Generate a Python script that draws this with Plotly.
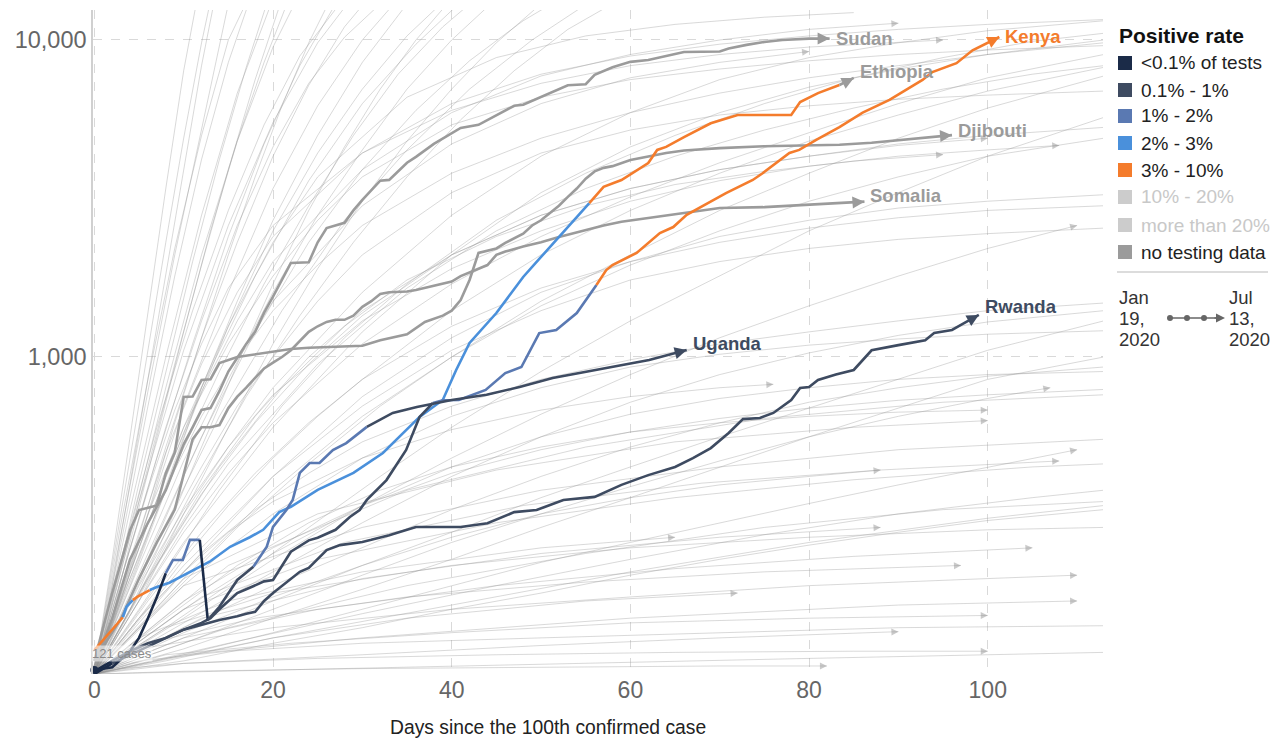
import numpy as np
import plotly.graph_objects as go

# ---------------- layout constants ----------------
W, H = 1281, 741
ML, MR, MT, MB = 93, 178, 10, 67
PW = W - ML - MR
PH = H - MT - MB
XR = [-0.15, 112.9]
YR = [2.0, 4.0946]
PX_PER_DAY = PW / (XR[1] - XR[0])
PX_PER_DEC = PH / (YR[1] - YR[0])
FONT = "Arial, 'Liberation Sans', sans-serif"


def pxx(x):
    return (x - ML) / PW


def pxy(y):
    return (H - MB - y) / PH


# ---------------- data ----------------
RATE_COLORS = {'a': '#1b2b48', 'b': '#3e4b61', 'c': '#5a79b2', 'd': '#4a90db',
               'e': '#f47c2c', 'f': '#cccccc', 'g': '#cccccc', 'n': '#9b9b9b'}
LEGEND_CODES = ['a', 'b', 'c', 'd', 'e', 'f', 'g', 'n']
LEGEND_LABELS = ['<0.1% of tests', '0.1% - 1%', '1% - 2%', '2% - 3%', '3% - 10%',
                 '10% - 20%', 'more than 20%', 'no testing data']
X_TICKS = [0, 20, 40, 60, 80, 100]
Y_TICKS = [1000, 10000]
Y_TICK_TEXT = ['1,000', '10,000']

SUDAN_DAYS = [0, 2, 4, 6, 8, 9, 10, 11, 12, 13, 14, 15, 16, 17, 18, 19, 20, 21, 22, 24,
              25, 26, 27, 28, 29, 30, 32, 33, 35, 36, 38, 40, 41, 43, 45, 47, 48, 50, 51, 53,
              55, 56, 58, 60, 62, 64, 66, 70, 71, 73, 75, 77, 80, 82.3]
SUDAN_VALS = [105, 150, 230, 300, 380, 450, 530, 600, 681, 690, 780, 900, 1000, 1100, 1200, 1380, 1550, 1750, 1980, 1990,
              2300, 2550, 2600, 2650, 2900, 3130, 3600, 3620, 4100, 4280, 4700, 5100, 5280, 5400, 5800, 6200, 6250, 6600, 6800, 7200,
              7250, 7760, 8200, 8530, 8650, 8900, 9160, 9200, 9400, 9650, 9860, 10000, 10100, 10100]

DJIBOUTI_DAYS = [0, 2, 4, 5, 7, 8, 9, 10, 11, 12, 13, 14, 16, 18, 20, 22, 24, 27, 30, 32,
                 35, 37, 39, 40, 41, 42, 43, 45, 46, 48, 49, 50, 51, 52, 53, 54, 55, 56, 57, 58,
                 60, 62, 64, 66, 70, 75, 80, 83.4, 87, 91, 94, 96]
DJIBOUTI_VALS = [110, 180, 284, 329, 340, 430, 500, 748, 750, 846, 850, 957, 1000, 1020, 1040, 1060, 1070, 1080, 1085, 1130,
                 1180, 1290, 1350, 1400, 1513, 1750, 2130, 2200, 2290, 2450, 2600, 2700, 2850, 3000, 3200, 3400, 3650, 3850, 3950, 4000,
                 4180, 4300, 4400, 4480, 4560, 4620, 4650, 4670, 4740, 4850, 4960, 5010]

SOMALIA_DAYS = [0, 3, 5, 7, 9, 10, 11, 12, 13, 14, 15, 16, 17, 18, 19, 20, 21, 22, 23, 24,
                25, 26, 27, 28, 29, 30, 31, 32, 33, 35, 36, 38, 40, 41, 42, 44, 45, 46, 48, 50,
                52, 55, 57, 59, 62, 66, 70, 75, 78, 81.2, 84, 86.2]
SOMALIA_VALS = [110, 150, 200, 260, 330, 430, 550, 600, 600, 610, 690, 750, 800, 860, 920, 960, 1000, 1050, 1120, 1200,
                1250, 1290, 1310, 1310, 1350, 1440, 1500, 1580, 1600, 1610, 1626, 1680, 1730, 1800, 1850, 1950, 2100, 2150, 2230, 2300,
                2390, 2520, 2600, 2670, 2740, 2840, 2950, 2970, 3000, 3040, 3060, 3090]

ETHIOPIA_DAYS = [0, 1.7, 3.2, 3.6, 4.3, 4.8, 6.2, 7, 8.4, 10.7, 12.9, 15.2, 17.4, 18.9, 20.7, 22, 25, 29, 32.3, 36.4,
                 37.5, 39, 40.5, 42, 45, 48, 50, 53, 55.4, 57, 59, 62, 63, 64, 66, 69, 72, 78, 79, 81,
                 83.4, 85]
ETHIOPIA_VALS = [119, 135, 151, 163, 171, 175, 184, 188, 194, 210, 226, 252, 270, 285, 324, 337, 381, 431, 498, 647,
                 681, 732, 910, 1107, 1376, 1788, 2068, 2571, 3060, 3440, 3617, 4090, 4500, 4600, 4940, 5460, 5800, 5800, 6370, 6800,
                 7210, 7590]
ETHIOPIA_RATE = [(3.2, 'e'), (4.3, 'd'), (6.2, 'e'), (55.4, 'd'), (83.4, 'e'), (85, 'n')]

KENYA_DAYS = [0, 2, 4, 6, 8, 10, 12, 13, 14, 15, 16, 17, 18, 19, 20, 21, 22, 24, 25, 27,
              28.6, 29.7, 30.5, 32.7, 34.9, 36.4, 37.9, 39, 40.8, 43.8, 46, 47.8, 49.8, 51.7, 54, 56.2, 57.3, 58, 60.7, 63.3,
              64.8, 66.3, 67.8, 70.7, 73.7, 74.8, 77.8, 78.9, 80.8, 83.4, 86, 89, 92.7, 93.8, 96.5, 98.3, 101.3]
KENYA_VALS = [100, 108, 115, 122, 130, 138, 145, 150, 160, 170, 180, 185, 190, 196, 198, 220, 243, 264, 269, 285,
              313, 329, 354, 409, 509, 647, 716, 730, 732, 787, 890, 930, 1190, 1217, 1376, 1687, 1880, 1950, 2130, 2460,
              2570, 2810, 2970, 3290, 3617, 3800, 4400, 4500, 4840, 5310, 5900, 6470, 7480, 7920, 8450, 9280, 10220]
KENYA_RATE = [(2, 'a'), (37.9, 'b'), (56.2, 'c'), (101.3, 'e')]

UGANDA_DAYS = [0, 2, 4, 5, 6, 7, 8, 8.8, 9.9, 10.7, 11.8, 12.7, 14, 16, 17.8, 19.3, 20, 21.5, 22.2, 23,
               24.1, 25.2, 26.7, 28.2, 30.5, 33.4, 36.1, 40, 43.9, 47.6, 51.3, 55, 58.8, 62.1, 66.3]
UGANDA_VALS = [103, 105, 118, 130, 150, 175, 208, 229, 229, 265, 265, 148, 163, 198, 218, 252, 291, 329, 354, 431,
               463, 463, 509, 535, 602, 666, 695, 732, 760, 804, 858, 897, 944, 978, 1052]
UGANDA_RATE = [(8, 'a'), (11.8, 'c'), (12.7, 'a'), (17.8, 'b'), (30.5, 'c'), (66.3, 'b')]

RWANDA_DAYS = [0, 2, 4, 6, 8, 10, 12, 14, 16, 17, 18, 19, 20, 22, 23, 24, 26, 27.5, 30, 31,
               33, 35, 36, 41, 44, 47, 49.5, 52.5, 56, 59, 62, 65, 67, 69, 71, 72.6, 74.5, 76, 78, 79,
               80, 81, 83, 85, 86, 87, 90, 93, 94, 96, 97, 99]
RWANDA_VALS = [102, 110, 118, 125, 130, 138, 143, 148, 152, 155, 157, 170, 180, 200, 210, 216, 246, 255, 261, 265,
               274, 285, 291, 291, 299, 324, 329, 354, 362, 395, 424, 450, 480, 516, 576, 637, 642, 666, 732, 799,
               804, 846, 880, 910, 980, 1050, 1090, 1130, 1190, 1217, 1262, 1357]
RWANDA_RATE = [(2, 'a'), (99, 'b')]

START_LABEL = '121 cases'

BG_FAST = [
    ([0, 2, 4, 6, 8, 10, 12, 14], [100, 220, 480, 1050, 2300, 4900, 9800, 18000]),
    ([0, 3, 6, 9, 12, 15], [100, 280, 780, 2100, 5200, 13000]),
    ([0, 3, 6, 9, 12, 15, 18], [100, 260, 700, 1800, 4200, 8500, 15000]),
    ([0, 4, 8, 12, 16, 20], [100, 330, 1000, 2800, 6800, 13500]),
    ([0, 4, 8, 12, 16, 20, 24], [100, 280, 800, 2100, 4800, 9500, 16000]),
    ([0, 3, 7, 11, 15, 19, 23, 27], [100, 200, 480, 1100, 2400, 4700, 8300, 13000]),
    ([0, 5, 10, 15, 20, 25, 30], [100, 350, 1050, 2600, 5500, 9800, 15000]),
    ([0, 5, 10, 15, 20, 25, 30, 35], [100, 260, 700, 1600, 3400, 6200, 10000, 14500]),
    ([0, 4, 8, 12, 16, 20, 25, 30, 35], [100, 190, 380, 800, 1500, 2700, 5000, 8500, 13000]),
    ([0, 6, 12, 18, 24, 30, 36, 42], [100, 300, 800, 1800, 3600, 6300, 9700, 14000]),
    ([0, 5, 10, 15, 20, 25, 30, 35, 40, 45], [100, 200, 420, 850, 1600, 2800, 4500, 7000, 10000, 13500]),
    ([0, 2, 4, 7, 10, 13, 16, 19, 22], [100, 150, 260, 560, 1200, 2500, 4800, 8500, 14000]),
    ([0, 3, 6, 9, 12, 15, 18, 21, 24, 27], [100, 170, 320, 620, 1150, 2100, 3700, 6200, 9800, 14500]),
    ([0, 4, 8, 12, 16, 20, 24, 28, 32, 36, 40], [100, 160, 280, 520, 950, 1700, 2900, 4600, 7000, 10000, 13500]),
    ([0, 5, 10, 15, 20, 25, 30, 35, 40, 45, 50], [100, 170, 320, 600, 1100, 1900, 3100, 4800, 7000, 9800, 13000]),
    ([0, 3, 6, 9, 12, 15, 18], [100, 300, 850, 2200, 5000, 10000, 15000]),
    ([0, 4, 8, 12, 16, 20, 24, 28, 32], [100, 220, 520, 1150, 2300, 4300, 7200, 11000, 15000]),
    ([0, 5, 10, 15, 20, 25, 30, 35, 40], [100, 230, 560, 1250, 2500, 4400, 7000, 10300, 14000]),
    ([0, 6, 12, 18, 24, 30, 36, 42, 48, 54], [100, 240, 560, 1200, 2300, 3900, 6000, 8600, 11500, 14500]),
    ([0, 2, 5, 8, 11, 14, 17, 20], [100, 170, 400, 900, 2000, 4200, 8200, 15000]),
    ([0, 7, 14, 21, 28, 35, 42, 49, 56], [100, 260, 650, 1400, 2700, 4500, 7000, 10000, 13500]),
    ([0, 4, 9, 14, 19, 24, 29, 34, 39, 44], [100, 200, 450, 900, 1700, 3000, 5000, 7800, 11000, 14500]),
    ([0, 3, 7, 11, 15, 19, 23, 27, 31], [100, 230, 600, 1400, 2900, 5400, 8900, 12500, 16000]),
    ([0, 5, 11, 17, 23, 29, 35, 41, 47, 53, 59], [100, 180, 380, 750, 1350, 2300, 3700, 5600, 8000, 10800, 13500]),
    ([0, 2, 4, 6, 8, 10, 12], [100, 230, 560, 1400, 3400, 8000, 16000]),
    ([0, 2, 4, 6, 8, 10, 12, 14], [100, 190, 400, 850, 1800, 3900, 8300, 16000]),
    ([0, 3, 6, 9, 12, 15, 18, 21], [100, 210, 450, 950, 1950, 3900, 7500, 13500]),
    ([0, 4, 8, 12, 16, 20, 24, 28, 32, 36], [100, 250, 600, 1300, 2600, 4600, 7300, 10200, 13000, 15500]),
]

BG_MID = [
    ([0, 5, 10, 15, 20, 30, 40, 50, 60, 70, 80, 90, 100, 113], [100, 180, 320, 520, 800, 1600, 2800, 4300, 5900, 7500, 8800, 9800, 10700, 11500]),
    ([0, 5, 10, 20, 30, 40, 50, 60, 70, 80, 90, 100, 113], [100, 160, 260, 600, 1200, 2100, 3300, 4600, 5900, 7100, 8100, 9000, 10000]),
    ([0, 7, 14, 21, 28, 35, 45, 55, 65, 75, 85, 95, 105, 113], [100, 190, 380, 700, 1150, 1700, 2700, 3800, 5000, 6300, 7600, 8800, 9900, 10500]),
    ([0, 5, 10, 15, 20, 25, 30, 40, 50, 60, 70, 80, 90, 100, 113], [100, 150, 230, 340, 480, 650, 850, 1400, 2100, 2900, 3800, 4800, 5800, 6900, 8200]),
    ([0, 6, 12, 18, 24, 30, 40, 50, 60, 70, 80, 90, 100, 113], [100, 200, 380, 650, 1000, 1400, 2100, 2800, 3400, 3900, 4300, 4700, 5000, 5300]),
    ([0, 5, 10, 20, 30, 40, 50, 60, 70, 80, 90, 100, 113], [100, 140, 200, 380, 650, 1000, 1500, 2100, 2900, 3800, 4900, 6100, 7700]),
    ([0, 4, 8, 12, 16, 20, 30, 40, 50, 60, 70, 80, 90], [100, 210, 420, 780, 1300, 2000, 3900, 5900, 7700, 9000, 10000, 10800, 11300]),
    ([0, 5, 10, 15, 20, 30, 40, 50, 60, 70, 80, 90, 100, 108], [100, 190, 330, 520, 760, 1300, 1900, 2500, 3100, 3600, 4000, 4300, 4500, 4650]),
    ([0, 8, 16, 24, 32, 40, 50, 60, 70, 80, 90, 100, 113], [100, 170, 290, 460, 700, 1000, 1450, 1950, 2500, 3100, 3700, 4300, 4900]),
    ([0, 3, 6, 10, 15, 20, 25, 30, 40, 50, 60, 70, 80, 90, 100, 113], [100, 180, 320, 600, 1100, 1800, 2700, 3700, 5400, 6600, 7500, 8100, 8600, 9000, 9300, 9600]),
    ([0, 5, 10, 15, 20, 30, 40, 50, 60, 70, 80], [100, 220, 470, 900, 1500, 3000, 4700, 6300, 7600, 8500, 9200]),
    ([0, 10, 20, 30, 40, 50, 60, 70, 80, 90, 100, 113], [100, 210, 420, 750, 1150, 1600, 2000, 2400, 2700, 2950, 3100, 3250]),
    ([0, 6, 12, 18, 24, 30, 40, 50, 60, 70, 80, 90, 100, 113], [100, 170, 280, 430, 620, 850, 1250, 1650, 2000, 2300, 2550, 2750, 2900, 3000]),
    ([0, 5, 10, 20, 30, 40, 50, 60, 70, 80, 90, 100, 113], [100, 150, 220, 420, 700, 1050, 1400, 1750, 2000, 2200, 2350, 2450, 2550]),
    ([0, 8, 16, 24, 32, 40, 50, 60, 70, 80, 90, 100, 113], [100, 140, 200, 290, 420, 600, 900, 1300, 1800, 2500, 3300, 4300, 5700]),
    ([0, 5, 10, 15, 20, 25, 35, 45, 55, 65, 75, 85], [100, 250, 600, 1250, 2300, 3700, 6600, 8800, 10300, 11200, 11800, 12200]),
    ([0, 10, 20, 30, 40, 50, 60, 70, 80, 90, 100, 110], [100, 150, 230, 340, 480, 660, 880, 1150, 1450, 1800, 2200, 2600]),
    ([0, 6, 12, 18, 24, 30, 40, 50, 60, 70, 80, 90, 100], [100, 200, 370, 620, 950, 1350, 2100, 2800, 3400, 3900, 4300, 4650, 4900]),
    ([0, 5, 10, 15, 25, 35, 45, 55, 65, 75, 85, 95, 105, 113], [100, 170, 290, 460, 950, 1650, 2500, 3400, 4300, 5200, 6100, 7000, 7800, 8300]),
    ([0, 4, 8, 12, 16, 20, 25, 30, 40, 50, 60, 70, 80, 90, 100, 113], [100, 170, 280, 450, 700, 1000, 1500, 2100, 3300, 4400, 5200, 5800, 6200, 6500, 6700, 6900]),
    ([0, 7, 14, 21, 28, 35, 45, 55, 65, 75, 85, 95], [100, 220, 450, 800, 1250, 1750, 2400, 3000, 3500, 3850, 4150, 4350]),
    ([0, 3, 6, 9, 12, 15, 20, 25, 30, 40, 50, 60, 70, 80, 90, 100, 113], [100, 170, 280, 440, 650, 900, 1400, 1950, 2600, 3800, 4900, 5900, 6800, 7600, 8300, 9000, 9800]),
    ([0, 4, 8, 12, 16, 20, 30, 40, 50, 60, 70, 80, 90, 100, 113], [100, 230, 500, 950, 1600, 2400, 4400, 6300, 7800, 8900, 9700, 10300, 10800, 11200, 11600]),
    ([0, 3, 6, 9, 12, 15, 20, 30, 40, 50, 60, 70, 80, 95], [100, 200, 380, 680, 1100, 1650, 2600, 4400, 6000, 7300, 8300, 9000, 9500, 10000]),
    ([0, 5, 10, 15, 20, 30, 40, 50, 60, 70, 80, 90, 100, 113], [100, 170, 280, 430, 620, 1100, 1700, 2400, 3200, 4100, 5100, 6300, 7600, 9000]),
]

BG_SLOW = [
    ([0, 10, 20, 30, 40, 50, 60, 70, 80, 90, 100, 113], [100, 140, 190, 250, 330, 420, 520, 620, 720, 800, 870, 930]),
    ([0, 10, 20, 30, 40, 50, 60, 70, 80, 90, 100, 113], [100, 120, 150, 185, 230, 290, 360, 450, 560, 690, 850, 1000]),
    ([0, 8, 16, 24, 32, 40, 50, 60, 70, 80, 90, 100], [100, 150, 220, 300, 380, 450, 520, 580, 620, 650, 670, 680]),
    ([0, 10, 20, 30, 40, 50, 60, 70, 80, 90, 100, 113], [100, 130, 170, 220, 280, 360, 450, 560, 690, 850, 1050, 1300]),
    ([0, 5, 10, 20, 30, 40, 50, 60, 70, 80, 90, 100, 113], [100, 130, 170, 250, 340, 430, 510, 580, 640, 690, 730, 760, 790]),
    ([0, 10, 20, 30, 40, 50, 60, 70, 80, 88], [100, 135, 175, 220, 270, 320, 360, 395, 420, 440]),
    ([0, 15, 30, 45, 60, 75, 90, 105, 113], [100, 125, 155, 190, 230, 275, 320, 360, 380]),
    ([0, 10, 20, 30, 40, 50, 60, 70, 80, 90, 100, 110], [100, 115, 135, 160, 190, 225, 260, 300, 345, 395, 450, 510]),
    ([0, 5, 10, 15, 20, 30, 40, 50, 60, 70, 76], [100, 150, 210, 280, 350, 480, 590, 680, 750, 800, 820]),
    ([0, 10, 20, 30, 40, 50, 60, 70, 80, 90, 100, 113], [100, 160, 240, 340, 450, 560, 660, 740, 800, 850, 880, 900]),
    ([0, 10, 20, 30, 40, 50, 60, 70, 80, 90, 100, 113], [100, 110, 125, 140, 160, 180, 205, 230, 255, 280, 305, 330]),
    ([0, 20, 40, 60, 80, 100, 113], [100, 130, 165, 210, 260, 310, 340]),
    ([0, 6, 12, 18, 24, 30, 40, 50, 60, 70, 80, 90, 100, 113], [100, 160, 240, 330, 430, 540, 700, 850, 980, 1100, 1200, 1300, 1400, 1480]),
    ([0, 10, 20, 30, 40, 50, 60, 70, 80, 90, 100, 107], [100, 125, 160, 205, 260, 320, 390, 470, 560, 650, 740, 800]),
    ([0, 10, 20, 30, 40, 50, 60, 70, 80, 90, 100, 113], [100, 145, 210, 300, 420, 560, 720, 880, 1030, 1170, 1290, 1400]),
    ([0, 5, 10, 15, 20, 30, 40, 50, 60, 70, 80, 90, 100, 113], [100, 140, 190, 250, 320, 480, 650, 800, 930, 1020, 1090, 1140, 1180, 1210]),
]

BG_FLAT = [
    ([0, 5, 15, 30, 50, 70, 90, 113], [100, 110, 118, 125, 130, 135, 140, 142]),
    ([0, 10, 30, 60, 90, 110], [100, 115, 130, 150, 165, 170]),
    ([0, 5, 20, 40, 60, 80, 100, 110], [100, 120, 140, 160, 175, 190, 200, 205]),
    ([0, 10, 25, 45, 65, 85, 105], [100, 130, 160, 190, 215, 235, 250]),
    ([0, 8, 20, 40, 60, 80, 100, 113], [100, 140, 180, 220, 250, 270, 285, 290]),
    ([0, 3, 10, 25, 45, 65, 85, 100], [100, 104, 108, 112, 115, 117, 118, 118]),
    ([0, 10, 30, 50, 70, 90], [100, 108, 115, 123, 130, 136]),
    ([0, 15, 35, 55, 75, 95, 113], [100, 140, 190, 240, 290, 330, 350]),
    ([0, 12, 30, 50, 70, 88], [100, 150, 200, 240, 270, 290]),
    ([0, 6, 18, 35, 55, 75, 97], [100, 125, 150, 175, 195, 210, 220]),
    ([0, 10, 25, 45, 65, 85, 105, 113], [100, 160, 230, 300, 360, 410, 450, 460]),
    ([0, 10, 30, 50, 70, 82], [100, 102, 104, 105, 106, 106]),
    ([0, 20, 40, 60, 80, 100, 113], [100, 103, 106, 109, 112, 115, 117]),
    ([0, 8, 22, 40, 60, 80, 100], [100, 115, 125, 135, 145, 150, 153]),
    ([0, 12, 28, 48, 68, 88, 108], [100, 175, 260, 340, 400, 440, 470]),
    ([0, 5, 15, 30, 50, 65], [100, 130, 170, 210, 250, 270]),
    ([0, 8, 20, 35, 55, 72], [100, 110, 130, 150, 170, 180]),
    ([0, 10, 25, 45, 65, 85, 100], [100, 200, 320, 440, 540, 600, 630]),
    ([0, 10, 30, 50, 70, 90, 113], [100, 190, 290, 380, 450, 510, 550]),
    ([0, 15, 35, 55, 75, 95, 113], [100, 220, 380, 520, 640, 720, 760]),
]

# ---------------- figure ----------------
fig = go.Figure()
BG_COLOR = 'rgba(150,150,150,0.36)'
BG_ARROW = 'rgba(150,150,150,0.5)'


def end_arrow(days, vals, color, width, length, size):
    dx = (days[-1] - days[-2]) * PX_PER_DAY
    dy = (np.log10(vals[-1]) - np.log10(vals[-2])) * PX_PER_DEC
    n = float(np.hypot(dx, dy))
    if n == 0:
        return
    fig.add_annotation(x=days[-1], y=float(np.log10(vals[-1])), xref='x', yref='y',
                       ax=-dx / n * length, ay=dy / n * length, text='', showarrow=True,
                       arrowhead=2, arrowsize=size, arrowwidth=width, arrowcolor=color,
                       standoff=0)


for group in (BG_FAST, BG_MID, BG_SLOW, BG_FLAT):
    for days, vals in group:
        fig.add_trace(go.Scatter(x=days, y=vals, mode='lines',
                                 line=dict(color=BG_COLOR, width=1),
                                 hoverinfo='skip', showlegend=False))
        if days[-1] < 111 and vals[-1] < 12000:
            end_arrow(days, vals, BG_ARROW, 1, 6, 1.4)


def seg_codes(days, breaks):
    codes = []
    for d in days[1:]:
        for until, c in breaks:
            if d <= until + 1e-9:
                codes.append(c)
                break
    return codes


def add_series(days, vals, breaks, width=2.6):
    codes = seg_codes(days, breaks)
    start = 0
    for i in range(1, len(codes) + 1):
        if i == len(codes) or codes[i] != codes[start]:
            fig.add_trace(go.Scatter(x=days[start:i + 1], y=vals[start:i + 1], mode='lines',
                                     line=dict(color=RATE_COLORS[codes[start]], width=width),
                                     hoverinfo='skip', showlegend=False))
            start = i
    return codes[-1]


COUNTRIES = [
    ('Sudan', SUDAN_DAYS, SUDAN_VALS, [(200, 'n')], 0),
    ('Djibouti', DJIBOUTI_DAYS, DJIBOUTI_VALS, [(200, 'n')], 5),
    ('Somalia', SOMALIA_DAYS, SOMALIA_VALS, [(200, 'n')], 6),
    ('Ethiopia', ETHIOPIA_DAYS, ETHIOPIA_VALS, ETHIOPIA_RATE, 6),
    ('Rwanda', RWANDA_DAYS, RWANDA_VALS, RWANDA_RATE, 8),
    ('Kenya', KENYA_DAYS, KENYA_VALS, KENYA_RATE, 0),
    ('Uganda', UGANDA_DAYS, UGANDA_VALS, UGANDA_RATE, 7),
]

for name, days, vals, breaks, ysh in COUNTRIES:
    last = add_series(days, vals, breaks)
    col = RATE_COLORS[last]
    end_arrow(days, vals, col, 2.4, 10, 1.0)
    fig.add_annotation(x=days[-1], y=float(np.log10(vals[-1])), xref='x', yref='y',
                       text='<b>%s</b>' % name, showarrow=False, xanchor='left', yanchor='middle',
                       xshift=4, yshift=ysh, font=dict(family=FONT, size=18.5, color=col))

# start marker + label
fig.add_trace(go.Scatter(x=[UGANDA_DAYS[0]], y=[UGANDA_VALS[0]], mode='markers',
                         marker=dict(color=RATE_COLORS['a'], size=8), cliponaxis=False,
                         hoverinfo='skip', showlegend=False))
fig.add_annotation(x=UGANDA_DAYS[0], y=float(np.log10(UGANDA_VALS[0])), xref='x', yref='y',
                   text=START_LABEL, showarrow=False, xanchor='left', yanchor='middle',
                   xshift=-3, yshift=16, bgcolor='rgba(255,255,255,0.55)', borderpad=0,
                   font=dict(family=FONT, size=13, color='#8a8a8a'))

# axis title
fig.add_annotation(x=pxx(548), y=pxy(728), xref='paper', yref='paper',
                   text='Days since the 100th confirmed case', showarrow=False,
                   xanchor='center', yanchor='middle', font=dict(family=FONT, size=19.3, color='#222'))

# ---------------- legend ----------------
LX = 1117
fig.add_annotation(x=pxx(LX), y=pxy(35), xref='paper', yref='paper', text='<b>Positive rate</b>',
                   showarrow=False, xanchor='left', yanchor='middle',
                   font=dict(family=FONT, size=21, color='#111'))
ROW_Y = [63, 90, 116, 143, 170, 197, 225, 252]
shapes = []
for code, lab, ry in zip(LEGEND_CODES, LEGEND_LABELS, ROW_Y):
    shapes.append(dict(type='rect', xref='paper', yref='paper', x0=pxx(LX + 1), x1=pxx(LX + 15),
                       y0=pxy(ry + 7), y1=pxy(ry - 7), fillcolor=RATE_COLORS[code], line=dict(width=0)))
    tcol = '#c8c8c8' if code in ('f', 'g') else '#222'
    fig.add_annotation(x=pxx(LX + 22), y=pxy(ry), xref='paper', yref='paper', text=lab,
                       showarrow=False, xanchor='left', yanchor='middle',
                       font=dict(family=FONT, size=19, color=tcol))
shapes.append(dict(type='line', xref='paper', yref='paper', x0=pxx(LX), x1=pxx(1268),
                   y0=pxy(272), y1=pxy(272), line=dict(color='#d0d0d0', width=1.5)))
for txt, x0 in ((['Jan', '19,', '2020'], LX), (['Jul', '13,', '2020'], 1227)):
    for t, ry in zip(txt, [297, 318, 339]):
        fig.add_annotation(x=pxx(x0), y=pxy(ry), xref='paper', yref='paper', text=t,
                           showarrow=False, xanchor='left', yanchor='middle',
                           font=dict(family=FONT, size=18.5, color='#333'))
shapes.append(dict(type='line', xref='paper', yref='paper', x0=pxx(1168), x1=pxx(1218),
                   y0=pxy(318), y1=pxy(318), line=dict(color='#666', width=1.5)))
for cx in (1170, 1187, 1204):
    shapes.append(dict(type='circle', xref='paper', yref='paper', x0=pxx(cx - 3), x1=pxx(cx + 3),
                       y0=pxy(318 + 3), y1=pxy(318 - 3), fillcolor='#666', line=dict(width=0)))
fig.add_annotation(x=pxx(1225), y=pxy(318), xref='paper', yref='paper', text='', showarrow=True,
                   ax=-12, ay=0, arrowhead=2, arrowsize=1.2, arrowwidth=1.5, arrowcolor='#666', standoff=0)

fig.update_layout(
    width=W, height=H,
    margin=dict(l=ML, r=MR, t=MT, b=MB, autoexpand=False),
    plot_bgcolor='white', paper_bgcolor='white',
    font=dict(family=FONT),
    shapes=shapes,
    showlegend=False,
    xaxis=dict(range=XR, tickvals=X_TICKS, showgrid=True, gridcolor='#d9d9d9', griddash='dash',
               gridwidth=1, zeroline=False, showline=False, ticks='', automargin=False,
               tickfont=dict(family=FONT, size=23, color='#666')),
    yaxis=dict(type='log', range=YR, tickvals=Y_TICKS, ticktext=Y_TICK_TEXT, showgrid=True,
               gridcolor='#d9d9d9', griddash='dash', gridwidth=1, zeroline=False,
               showline=True, linecolor='#d0d0d0', linewidth=1.5, ticks='', automargin=False,
               tickfont=dict(family=FONT, size=23.5, color='#666')),
)

fig.write_html('out.html', config={'displayModeBar': False},
               post_script="document.body.style.margin='0';document.body.style.padding='0';")
